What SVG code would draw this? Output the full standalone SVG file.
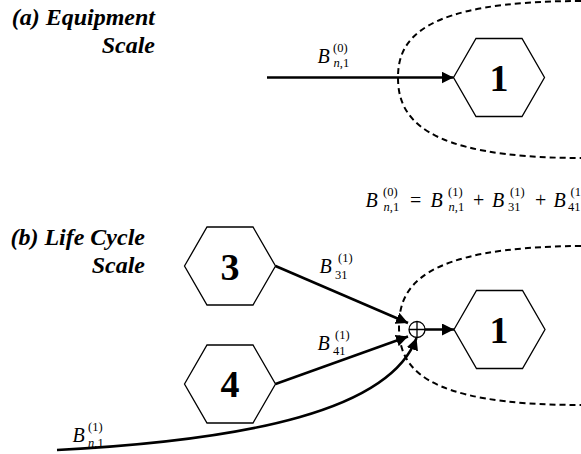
<svg xmlns="http://www.w3.org/2000/svg" width="581" height="454" viewBox="0 0 581 454">
<style>
.title{font-size:24px;font-weight:bold;font-style:italic;text-anchor:end}
.num{font-size:38px;font-weight:bold;text-anchor:middle}
.B{font-size:20px;font-style:italic}
.s{font-size:12.5px}
.i{font-style:italic}
.op{font-size:20px}
.hex{fill:#fff;stroke:#000;stroke-width:1.3}
.dash{fill:none;stroke:#000;stroke-width:2;stroke-dasharray:6 4}
.arr{fill:none;stroke:#000;stroke-width:2.5;marker-end:url(#ah)}
.sum{fill:#fff;stroke:#000;stroke-width:1.3}
</style>
<defs>
<marker id="ah" markerUnits="userSpaceOnUse" markerWidth="13" markerHeight="12" refX="12" refY="6" orient="auto">
<path d="M0,0 L12,6 L0,12 z" fill="#000"/>
</marker>
</defs>

<g id="titles">
<text class="title" style="font-family:'Liberation Serif'" x="155" y="25">(a) Equipment</text>
<text class="title" style="font-family:'Liberation Serif'" x="155" y="53">Scale</text>
<text class="title" style="font-family:'Liberation Serif'" x="145" y="245">(b) Life Cycle</text>
<text class="title" style="font-family:'Liberation Serif'" x="145" y="273">Scale</text>
</g>

<g id="boundaries">
<path class="dash" d="M581,1 C420,1 398,40 398,77.5 C398,116 420,158 581,158"/>
<path class="dash" d="M581,246 C420,247 399,287 399,327 C399,366 420,405 581,405"/>
</g>

<g id="connectors">
<path class="arr" d="M267,77.5 L453.5,77.5"/>
<path class="arr" d="M275.5,266 L408,323"/>
<path class="arr" d="M275.5,384 L408,336.5"/>
<path class="arr" d="M57,450 C250,440 390,410 416.5,338"/>
<path class="arr" d="M425,329.5 L454,329.5"/>
</g>

<g id="node-a1">
<polygon class="hex" points="453.5,77.5 476,38.5 522,38.5 544.5,77.5 522,116.5 476,116.5"/>
<text class="num" style="font-family:'Liberation Serif'" x="499" y="91">1</text>
</g>

<g id="node-3">
<polygon class="hex" points="184.5,266 207,227 253,227 275.5,266 253,305 207,305"/>
<text class="num" style="font-family:'Liberation Serif'" x="230" y="280">3</text>
</g>

<g id="node-4">
<polygon class="hex" points="184.5,384 207,345 253,345 275.5,384 253,423 207,423"/>
<text class="num" style="font-family:'Liberation Serif'" x="230" y="397">4</text>
</g>

<g id="node-b1">
<polygon class="hex" points="454,329.5 476.5,290.5 522.5,290.5 545,329.5 522.5,368.5 476.5,368.5"/>
<text class="num" style="font-family:'Liberation Serif'" x="499" y="343">1</text>
</g>

<g id="sum">
<circle class="sum" cx="417" cy="329.5" r="8"/>
<path d="M409,329.5 H425 M417,321.5 V337.5" stroke="#000" stroke-width="1.3"/>
</g>

<g id="labels">
<text style="font-family:'Liberation Serif'"><tspan class="B" x="317.5" y="63.3">B</tspan><tspan class="s" x="333" y="52">(0)</tspan><tspan class="s" x="333.5" y="66.7"><tspan class="i">n</tspan>,1</tspan></text>
<text style="font-family:'Liberation Serif'"><tspan class="B" x="319.5" y="273.3">B</tspan><tspan class="s" x="338" y="262">(1)</tspan><tspan class="s" x="335" y="279">31</tspan></text>
<text style="font-family:'Liberation Serif'"><tspan class="B" x="317.5" y="350">B</tspan><tspan class="s" x="335" y="339">(1)</tspan><tspan class="s" x="333" y="355">41</tspan></text>
<text style="font-family:'Liberation Serif'"><tspan class="B" x="72.5" y="441.7">B</tspan><tspan class="s" x="88" y="431">(1)</tspan><tspan class="s" x="88" y="446.7"><tspan class="i">n</tspan>,1</tspan></text>
</g>

<g id="equation">
<text style="font-family:'Liberation Serif'"><tspan class="B" x="365.5" y="207">B</tspan><tspan class="s" x="383" y="196">(0)</tspan><tspan class="s" x="383.5" y="210.5"><tspan class="i">n</tspan>,1</tspan><tspan class="op" x="410" y="207">=</tspan><tspan class="B" x="430.5" y="207">B</tspan><tspan class="s" x="448" y="196">(1)</tspan><tspan class="s" x="448.5" y="210.5"><tspan class="i">n</tspan>,1</tspan><tspan class="op" x="473" y="207">+</tspan><tspan class="B" x="492" y="207">B</tspan><tspan class="s" x="510" y="196">(1)</tspan><tspan class="s" x="508" y="210.5">31</tspan><tspan class="op" x="535" y="207">+</tspan><tspan class="B" x="553.5" y="207">B</tspan><tspan class="s" x="570.5" y="196">(1)</tspan><tspan class="s" x="568" y="210.5">41</tspan></text>
</g>
</svg>
